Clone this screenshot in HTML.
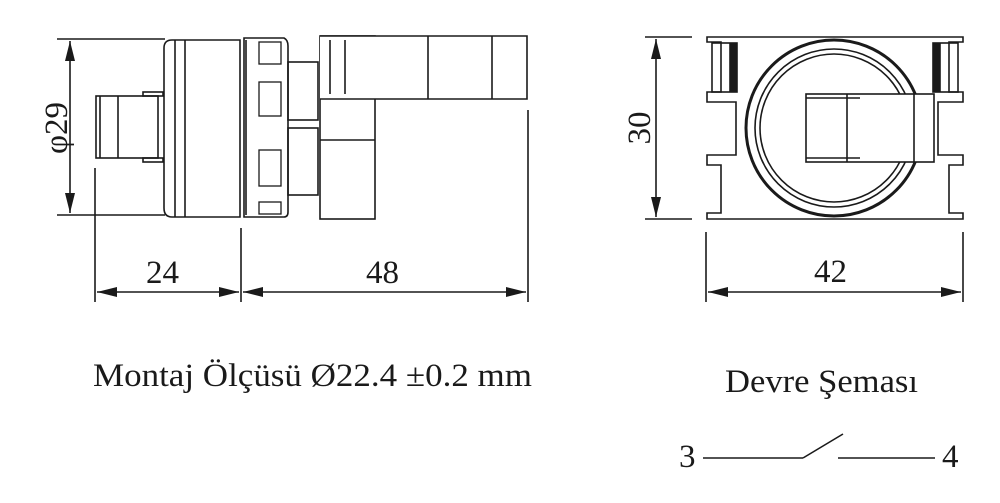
<!DOCTYPE html>
<html><head><meta charset="utf-8"><style>html,body{margin:0;padding:0;background:#fff}svg{display:block}text{font-family:"Liberation Serif","Times New Roman",serif !important}</style></head>
<body>
<svg width="1000" height="503" viewBox="0 0 1000 503" xmlns="http://www.w3.org/2000/svg" fill="none" stroke="#1a1a1a" stroke-width="1.6">
<defs>
<marker id="a" viewBox="0 0 20 10" refX="20" refY="5" markerWidth="20" markerHeight="10" markerUnits="userSpaceOnUse" orient="auto-start-reverse"><path d="M0,0 L20,5 L0,10z" fill="#1a1a1a" stroke="none"/></marker>
</defs>
<line x1="57" y1="39" x2="165" y2="39"/>
<line x1="57" y1="215" x2="165" y2="215"/>
<line x1="70" y1="41" x2="70" y2="213" marker-start="url(#a)" marker-end="url(#a)"/>
<line x1="95" y1="168" x2="95" y2="302"/>
<line x1="241" y1="228" x2="241" y2="302"/>
<line x1="528" y1="110" x2="528" y2="302"/>
<line x1="97" y1="292" x2="239" y2="292" marker-start="url(#a)" marker-end="url(#a)"/>
<line x1="243" y1="292" x2="526" y2="292" marker-start="url(#a)" marker-end="url(#a)"/>
<g fill="#1a1a1a" stroke="none" font-size="33">
<text x="146" y="283">24</text>
<text x="366" y="283">48</text>
<text transform="translate(67,128) rotate(-90)" text-anchor="middle">φ29</text>
</g>
<rect x="96" y="96" width="62" height="62"/>
<line x1="118" y1="96" x2="118" y2="158"/>
<line x1="100" y1="96" x2="100" y2="158"/>
<rect x="143" y="92" width="20" height="4"/><rect x="143" y="158" width="20" height="4"/>
<path d="M172,40 H240 V217 H172 Q164,217 164,208 V48 Q164,40 172,40Z"/>
<line x1="175" y1="40" x2="175" y2="217"/><line x1="185" y1="40" x2="185" y2="217"/>
<path d="M244,38 H284 Q288,40 288,46 V212 Q288,217 284,217 H244Z"/>
<line x1="246" y1="40" x2="246" y2="215"/>
<g stroke-width="1.3">
<rect x="259" y="42" width="22" height="22"/><rect x="259" y="82" width="22" height="34"/>
<rect x="259" y="150" width="22" height="36"/><rect x="259" y="202" width="22" height="12"/>
</g>
<rect x="288" y="62" width="30" height="58"/><rect x="288" y="128" width="30" height="67"/>
<rect x="320" y="36" width="55" height="183"/>
<path d="M320,36 H527 V99 H320" fill="#fff"/>
<line x1="330" y1="40" x2="330" y2="94"/><line x1="345" y1="40" x2="345" y2="94"/>
<line x1="428" y1="36" x2="428" y2="99"/><line x1="492" y1="36" x2="492" y2="99"/>
<line x1="320" y1="140" x2="375" y2="140"/>
<line x1="645" y1="37" x2="692" y2="37"/><line x1="645" y1="219" x2="692" y2="219"/>
<line x1="656" y1="39" x2="656" y2="217" marker-start="url(#a)" marker-end="url(#a)"/>
<line x1="706" y1="232" x2="706" y2="302"/><line x1="963" y1="232" x2="963" y2="302"/>
<line x1="708" y1="292" x2="961" y2="292" marker-start="url(#a)" marker-end="url(#a)"/>
<g fill="#1a1a1a" stroke="none" font-size="33">
<text x="814" y="282">42</text>
<text transform="translate(650,128) rotate(-90)" text-anchor="middle">30</text>
</g>
<path d="M707,37 H963 V42 H949 V92 H963 V102 H938 V155 H963 V165 H949 V213 H963 V219 H707 V213 H721 V165 H707 V155 H736 V102 H707 V92 H721 V42 H707Z"/>
<rect x="712" y="43" width="25" height="49"/><rect x="933" y="43" width="25" height="49"/>
<rect x="730" y="44" width="6" height="47" fill="#1a1a1a"/><rect x="934" y="44" width="6" height="47" fill="#1a1a1a"/>
<circle cx="834" cy="128" r="88" fill="#fff" stroke-width="3"/>
<circle cx="834" cy="128" r="79"/><circle cx="834" cy="128" r="74"/>
<rect x="806" y="94" width="128" height="68" fill="#fff"/>
<line x1="847" y1="94" x2="847" y2="162"/><line x1="914" y1="94" x2="914" y2="162"/>
<line x1="806" y1="98" x2="860" y2="98"/><line x1="806" y1="158" x2="860" y2="158"/>
<g fill="#1a1a1a" stroke="none" font-size="33">
<text x="93" y="386" textLength="439" lengthAdjust="spacingAndGlyphs">Montaj Ölçüsü Ø22.4 ±0.2 mm</text>
<text x="725" y="392" textLength="193" lengthAdjust="spacingAndGlyphs">Devre Şeması</text>
<text x="679" y="467">3</text><text x="942" y="467">4</text>
</g>
<line x1="703" y1="458" x2="803" y2="458"/>
<line x1="803" y1="458" x2="843" y2="434"/>
<line x1="838" y1="458" x2="935" y2="458"/>
</svg>
</body></html>
